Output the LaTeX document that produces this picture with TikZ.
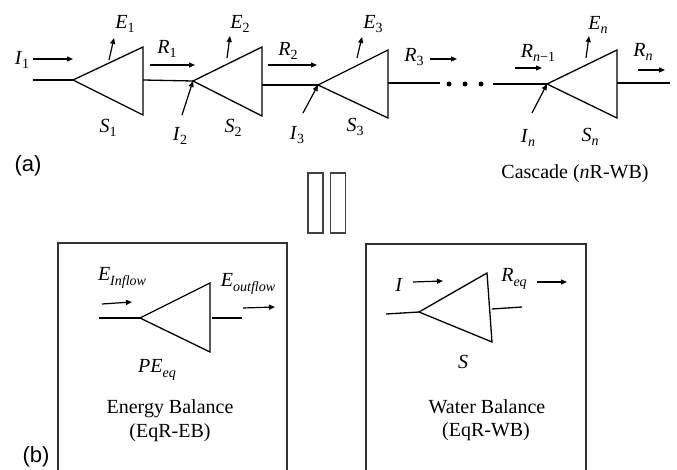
\documentclass[tikz,border=0pt]{standalone}
\usepackage{fontspec}
\setmainfont{Liberation Serif}
\newfontfamily\lsans{Liberation Sans}
\usetikzlibrary{arrows.meta}
\newcommand\lsub[1]{\raisebox{-0.45ex}{\fontsize{14}{14}\selectfont #1}}
\newcommand\vi[1]{\textit{#1}}
\begin{document}
\begin{tikzpicture}[x=1pt,y=-1pt,
 wire/.style={line width=1.3pt},
 flow/.style={line width=1.2pt,-{Triangle[length=6pt,width=5pt]}},
 lbl/.style={inner sep=0pt,font=\fontsize{20}{22}\selectfont},
 txt/.style={inner sep=0pt,font=\fontsize{20}{23}\selectfont,align=center},
 tag/.style={inner sep=0pt,font=\lsans\fontsize{22}{24}\selectfont},
 frame/.style={line width=1.5pt,draw=black!80},
 eqbar/.style={draw=black!75,line width=1.5pt,minimum width=15pt,minimum height=60pt,inner sep=0pt},
 dotn/.style={circle,fill=black,inner sep=0pt,minimum size=5pt},
 ]
\useasboundingbox (0,0) rectangle (677,470);

% ---------- cascade ----------
% triangle 1
\coordinate (t1) at (73,80); \coordinate (a1) at (143,47); \coordinate (b1) at (143,115);
\coordinate (o1) at (143,80);
% triangle 2
\coordinate (t2) at (193,81); \coordinate (a2) at (262,47); \coordinate (b2) at (262,116);
\coordinate (o2) at (262,85);
% triangle 3
\coordinate (t3) at (318,85); \coordinate (a3) at (388,50); \coordinate (b3) at (388,118);
\coordinate (o3) at (388,83);
% triangle n
\coordinate (tn) at (547,84); \coordinate (an) at (617,50); \coordinate (bn) at (617,118);
\coordinate (on) at (617,83);

\draw[wire] (t1) -- (a1) -- (b1) -- cycle;
\draw[wire] (t2) -- (a2) -- (b2) -- cycle;
\draw[wire] (t3) -- (a3) -- (b3) -- cycle;
\draw[wire] (tn) -- (an) -- (bn) -- cycle;

\coordinate (in1) at (33,80);
\draw[wire] (in1) -- (t1);
\draw[wire] (o1) -- (t2);
\draw[wire] (o2) -- (t3);
\coordinate (e3) at (440,83);
\draw[wire] (o3) -- (e3);
\node[dotn] (d1) at (449,84) {};
\node[dotn] (d2) at (465,84) {};
\node[dotn] (d3) at (481,84) {};
\coordinate (sn) at (493,84);
\draw[wire] (sn) -- (tn);
\coordinate (outn) at (670,83);
\draw[wire] (on) -- (outn);

% flow arrows
\coordinate (fI1a) at (33,59); \coordinate (fI1b) at (73,59);
\draw[flow] (fI1a) -- (fI1b);
\coordinate (fE1a) at (109,60); \coordinate (fE1b) at (114,38);
\draw[flow] (fE1a) -- (fE1b);
\coordinate (fR1a) at (150,65); \coordinate (fR1b) at (195,65);
\draw[flow] (fR1a) -- (fR1b);
\coordinate (fI2a) at (182,115);
\draw[flow] (fI2a) -- (t2);
\coordinate (fE2a) at (227,58); \coordinate (fE2b) at (230,36);
\draw[flow] (fE2a) -- (fE2b);
\coordinate (fR2a) at (268,65); \coordinate (fR2b) at (317,65);
\draw[flow] (fR2a) -- (fR2b);
\coordinate (fI3a) at (303,113);
\draw[flow] (fI3a) -- (t3);
\coordinate (fE3a) at (357,58); \coordinate (fE3b) at (362,37);
\draw[flow] (fE3a) -- (fE3b);
\coordinate (fR3a) at (430,59); \coordinate (fR3b) at (457,59);
\draw[flow] (fR3a) -- (fR3b);
\coordinate (fRma) at (515,68); \coordinate (fRmb) at (542,68);
\draw[flow] (fRma) -- (fRmb);
\coordinate (fEna) at (586,58); \coordinate (fEnb) at (589,36);
\draw[flow] (fEna) -- (fEnb);
\coordinate (fIna) at (532,113);
\draw[flow] (fIna) -- (tn);
\coordinate (fRna) at (638,70); \coordinate (fRnb) at (665,70);
\draw[flow] (fRna) -- (fRnb);

% labels
\node[lbl] (lI1) at (22,60) {\vi{I}\lsub{1}};
\node[lbl] (lE1) at (125,24) {\vi{E}\lsub{1}};
\node[lbl] (lR1) at (167,49) {\vi{R}\lsub{1}};
\node[lbl] (lS1) at (108,128) {\vi{S}\lsub{1}};
\node[lbl] (lI2) at (180,136) {\vi{I}\lsub{2}};
\node[lbl] (lE2) at (240,24) {\vi{E}\lsub{2}};
\node[lbl] (lR2) at (288,51) {\vi{R}\lsub{2}};
\node[lbl] (lS2) at (233,128) {\vi{S}\lsub{2}};
\node[lbl] (lI3) at (297,135) {\vi{I}\lsub{3}};
\node[lbl] (lE3) at (373,24) {\vi{E}\lsub{3}};
\node[lbl] (lR3) at (414,57) {\vi{R}\lsub{3}};
\node[lbl] (lS3) at (355,127) {\vi{S}\lsub{3}};
\node[lbl] (lRm) at (538,53) {\vi{R}\lsub{\vi{n}−1}};
\node[lbl] (lEn) at (598,25) {\vi{E}\lsub{\vi{n}}};
\node[lbl] (lRn) at (643,52) {\vi{R}\lsub{\vi{n}}};
\node[lbl] (lIn) at (528,138) {\vi{I}\lsub{\vi{n}}};
\node[lbl] (lSn) at (590,137) {\vi{S}\lsub{\vi{n}}};

\node[txt] (casc) at (575,174) {Cascade (\vi{n}R-WB)};
\node[tag] (taga) at (28,166) {(a)};
\node[tag] (tagb) at (36,457) {(b)};

% equals sign
\node[eqbar] (eq1) at (315.5,203) {};
\node[eqbar] (eq2) at (338,203) {};

% ---------- energy balance box ----------
\draw[frame] (58,472) -- (58,243) -- (287,243) -- (287,472);
\coordinate (tE) at (140,318); \coordinate (aE) at (210,283); \coordinate (bE) at (210,352);
\draw[wire] (tE) -- (aE) -- (bE) -- cycle;
\coordinate (inE) at (99,318);
\draw[wire] (inE) -- (tE);
\coordinate (oEa) at (212,318); \coordinate (oEb) at (242,318);
\draw[wire] (oEa) -- (oEb);
\coordinate (fEia) at (102,304); \coordinate (fEib) at (132,302);
\draw[flow] (fEia) -- (fEib);
\coordinate (fEoa) at (243,308); \coordinate (fEob) at (275,307);
\draw[flow] (fEoa) -- (fEob);
\node[lbl] (lEin) at (122,278) {\vi{E}\lsub{\vi{Inflow}}};
\node[lbl] (lEout) at (248,284) {\vi{E}\lsub{\vi{outflow}}};
\node[lbl] (lPE) at (157,370) {\vi{PE}\lsub{\vi{eq}}};
\node[txt] (eb1) at (170,409) {Energy Balance};
\node[txt] (eb2) at (170,433) {(EqR-EB)};

% ---------- water balance box ----------
\draw[frame] (366,472) -- (366,244) -- (586,244) -- (586,472);
\coordinate (tW) at (419,312); \coordinate (aW) at (487,273); \coordinate (bW) at (492,342);
\draw[wire] (tW) -- (aW) -- (bW) -- cycle;
\coordinate (inW) at (386,314);
\draw[wire] (inW) -- (tW);
\coordinate (oWa) at (492,309); \coordinate (oWb) at (522,307);
\draw[wire] (oWa) -- (oWb);
\coordinate (fIa) at (413,282); \coordinate (fIb) at (443,281);
\draw[flow] (fIa) -- (fIb);
\coordinate (fRqa) at (537,282); \coordinate (fRqb) at (567,282);
\draw[flow] (fRqa) -- (fRqb);
\node[lbl] (lI) at (399,285) {\vi{I}};
\node[lbl] (lReq) at (514,279) {\vi{R}\lsub{\vi{eq}}};
\node[lbl] (lS) at (463,362) {\vi{S}};
\node[txt] (wb1) at (487,407) {Water Balance};
\node[txt] (wb2) at (486,432) {(EqR-WB)};
\end{tikzpicture}
\end{document}
